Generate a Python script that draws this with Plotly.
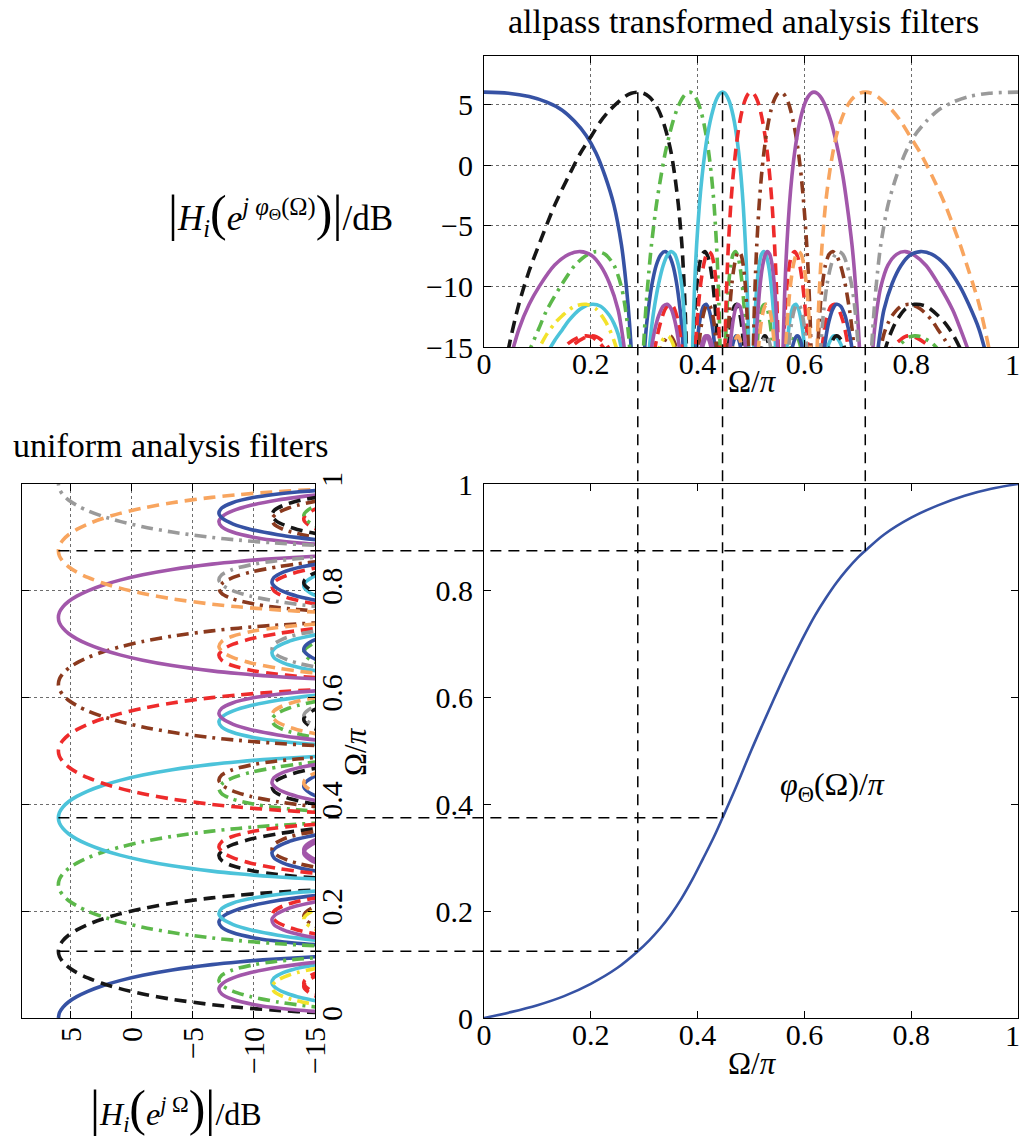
import numpy as np
import plotly.graph_objects as go

FONT = "Liberation Serif"

# ---------------------------------------------------------------------------
# 16-band uniform DFT filterbank: band centres (units of pi), colours, styles
# ---------------------------------------------------------------------------
channel_centre = [0.0, 0.125, 0.25, 0.375, 0.5, 0.625, 0.75, 0.875, 1.0,
                  1.125, 1.25, 1.375, 1.5, 1.625, 1.75, 1.875]
BLUE, BLACK, GREEN, CYAN = "#3652a4", "#161616", "#5cb84a", "#4cc3da"
RED, BROWN, MAGENTA, ORANGE = "#ee2b2b", "#8b3a1e", "#a257aa", "#f8a55f"
GRAY, YELLOW = "#9a9a9a", "#f3e22c"
channel_color = [BLUE, BLACK, GREEN, CYAN, RED, BROWN, MAGENTA, ORANGE, GRAY,
                 BLUE, BLACK, GREEN, CYAN, RED, YELLOW, MAGENTA]
SOLID, DASH, DASHDOT = "solid", "12px,7px", "12px,6px,3px,6px"
channel_dash = [SOLID, DASH, DASHDOT] * 5 + [SOLID]

# prototype magnitude response (dB) against distance from the band centre (Omega/pi)
main_lobe_offset = [0.0, 0.01, 0.02, 0.03, 0.04, 0.05, 0.06, 0.07, 0.08, 0.09,
                    0.10, 0.105, 0.11, 0.115, 0.12]
main_lobe_db = [6.02, 5.93, 5.65, 5.19, 4.51, 3.61, 2.45, 0.98, -0.89, -3.30,
                -6.56, -8.71, -11.45, -15.24, -21.55]
side1_offset = [0.135, 0.14, 0.145, 0.15, 0.16, 0.17, 0.18, 0.19, 0.20, 0.21,
                0.22, 0.225, 0.23, 0.235]
side1_db = [-16.61, -13.52, -11.48, -10.04, -8.24, -7.36, -7.13, -7.45, -8.30,
            -9.74, -11.95, -13.46, -15.37, -17.89]
side2_offset = [0.27, 0.275, 0.28, 0.285, 0.29, 0.30, 0.31, 0.32, 0.33, 0.335,
                0.34, 0.345, 0.35]
side2_db = [-16.69, -15.11, -13.94, -13.05, -12.40, -11.64, -11.48, -11.87,
            -12.83, -13.55, -14.46, -15.60, -17.04]
side3_offset = [0.41, 0.415, 0.42, 0.43, 0.435, 0.44, 0.45, 0.455, 0.46]
side3_db = [-15.90, -15.19, -14.68, -14.14, -14.08, -14.17, -14.75, -15.26, -15.94]

# frequency warping curve phi_Theta(Omega)/pi
warp_omega = [0.0, 0.05, 0.10, 0.15, 0.20, 0.25, 0.288, 0.31, 0.33, 0.35, 0.37,
              0.39, 0.41, 0.43, 0.4467, 0.47, 0.50, 0.52, 0.54, 0.56, 0.58,
              0.60, 0.62, 0.64, 0.66, 0.68, 0.70, 0.714, 0.75, 0.80, 0.85,
              0.90, 0.95, 1.0]
warp_phi = [0.0, 0.011, 0.024, 0.041, 0.064, 0.094, 0.125, 0.146, 0.168, 0.194,
            0.224, 0.259, 0.298, 0.338, 0.375, 0.428, 0.500, 0.546, 0.591,
            0.635, 0.677, 0.717, 0.754, 0.786, 0.815, 0.840, 0.862, 0.875,
            0.906, 0.937, 0.960, 0.978, 0.991, 1.0]

# bands whose centres are traced through the warping curve
mark_omega = [0.288, 0.4467, 0.714]
mark_phi = [0.125, 0.375, 0.875]

# tick positions and labels of the horizontal frequency axes
omega_ticks = [0.0, 0.2, 0.4, 0.6, 0.8, 1.0]
omega_ticktext = ["0", "0.2", "0.4", "0.6", "0.8", "1"]

# ---------------------------------------------------------------------------
# panel geometry (paper fractions) and axis ranges
# ---------------------------------------------------------------------------
W, H = 1023, 1138
TOP_X = [484 / W, 1018 / W]
TOP_Y = [1 - 347 / H, 1 - 56 / H]
BR_X = TOP_X
BR_Y = [1 - 1018 / H, 1 - 484 / H]
LEFT_X = [22 / W, 315 / W]
LEFT_Y = BR_Y
DB_RANGE = [-15, 9]
DB_RANGE_REV = [9, -15]


def to_paper(v, dom, rng):
    return dom[0] + (v - rng[0]) / (rng[1] - rng[0]) * (dom[1] - dom[0])


def lobe_segments():
    m_off = np.array(main_lobe_offset)
    m_db = np.array(main_lobe_db)
    segs = [(np.concatenate([-m_off[:0:-1], m_off]),
             np.concatenate([m_db[:0:-1], m_db]))]
    for off, db in [(side1_offset, side1_db), (side2_offset, side2_db),
                    (side3_offset, side3_db)]:
        off = np.array(off)
        db = np.array(db)
        segs.append((-off[::-1], db[::-1]))
        segs.append((off, db))
    return segs


SEGS = lobe_segments()


def channel_curve(centre):
    """Frequency positions (Omega/pi in [0,1]) and levels of one band's lobes."""
    pos_all, db_all = [], []
    for shift in (-2.0, 0.0, 2.0):
        for off, db in SEGS:
            pos = centre + shift + off
            keep = (pos >= -1e-9) & (pos <= 1 + 1e-9)
            if keep.sum() >= 2:
                pos_all.append(np.clip(pos[keep], 0, 1))
                db_all.append(db[keep])
    return pos_all, db_all


def joined(parts):
    out = []
    for p in parts:
        out.extend(p.tolist())
        out.append(None)
    return out


fig = go.Figure()

for k, c in enumerate(channel_centre):
    pos_parts, db_parts = channel_curve(c)
    if not pos_parts:
        continue
    line = dict(color=channel_color[k], width=3.6, dash=channel_dash[k],
                shape="spline", smoothing=0.8)
    # uniform filterbank (rotated panel: level horizontally, frequency vertically)
    fig.add_trace(go.Scatter(x=joined(db_parts), y=joined(pos_parts),
                             xaxis="x3", yaxis="y3", mode="lines", line=line,
                             hoverinfo="skip", showlegend=False))
    # allpass-transformed filterbank: frequencies mapped through the warping curve
    warped = [np.interp(p, warp_phi, warp_omega) for p in pos_parts]
    fig.add_trace(go.Scatter(x=joined(warped), y=joined(db_parts),
                             xaxis="x", yaxis="y", mode="lines", line=line,
                             hoverinfo="skip", showlegend=False))

fig.add_trace(go.Scatter(x=warp_omega, y=warp_phi, xaxis="x2", yaxis="y2",
                         mode="lines", line=dict(color=BLUE, width=2.6, shape="spline"),
                         hoverinfo="skip", showlegend=False))

# construction lines linking band centres across the three panels
peak_db = main_lobe_db[0]
shapes = []
for om, ph in zip(mark_omega, mark_phi):
    xv = to_paper(om, TOP_X, [0, 1])
    y_top = to_paper(peak_db, TOP_Y, DB_RANGE)
    y_curve = to_paper(ph, BR_Y, [0, 1])
    x_left = to_paper(peak_db, LEFT_X, DB_RANGE_REV)
    dline = dict(color="black", width=1.5, dash="11px,7px")
    shapes.append(dict(type="line", xref="paper", yref="paper", x0=xv, x1=xv,
                       y0=y_top, y1=y_curve, line=dline, layer="above"))
    shapes.append(dict(type="line", xref="paper", yref="paper", x0=x_left, x1=xv,
                       y0=y_curve, y1=y_curve, line=dline, layer="above"))

TICK_SIZE = 30
tickfont = dict(family=FONT, size=TICK_SIZE, color="black")
base = dict(showline=True, linecolor="black", linewidth=1.2, mirror="ticks",
            ticks="inside", ticklen=7, tickwidth=1, tickcolor="black",
            tickfont=tickfont, zeroline=False, fixedrange=True, automargin=False)
grid = dict(showgrid=True, gridcolor="rgba(60,60,60,0.75)", gridwidth=1, griddash="dot")
# the last label sits at the page edge, so it is placed separately, flush right
omega_axis = dict(range=[0, 1], tickmode="array", tickvals=omega_ticks,
                  ticktext=omega_ticktext[:-1] + [""], ticklabelstandoff=-10)

big = '<span style="font-size:50px">{}</span>'
top_ylabel = (big.format("|") + "<i>H<sub>i</sub></i>" + big.format("(")
              + "<i>e</i><sup><i>j φ</i><sub>Θ</sub>(Ω)</sup>" + big.format(")")
              + big.format("|") + "/dB")
left_xlabel = (big.format("|") + "<i>H<sub>i</sub></i>" + big.format("(")
               + "<i>e</i><sup><i>j</i> Ω</sup>" + big.format(")")
               + big.format("|") + "/dB")
omega_label = "Ω/<i>π</i>"


def ann(text, px, py, size=31, angle=0, xanchor="center"):
    return dict(text=text, x=px / W, y=1 - py / H, xref="paper", yref="paper",
                showarrow=False, xanchor=xanchor, yanchor="middle", textangle=angle,
                font=dict(family=FONT, size=size, color="black"))


annotations = [
    ann("allpass transformed analysis filters", 743, 22, 34),
    ann("uniform analysis filters", 170, 445, 34),
    ann(omega_label, 752, 381),
    ann(omega_label, 752, 1063),
    ann(omega_label, 355, 752, angle=-90),
    ann(top_ylabel, 280, 214, 35),
    ann(left_xlabel, 176, 1108, 32),
    ann("<i>φ</i><sub>Θ</sub>(Ω)/<i>π</i>", 778, 786, 32, xanchor="left"),
    ann(omega_ticktext[-1], 1022, 364, TICK_SIZE, xanchor="right"),
    ann(omega_ticktext[-1], 1022, 1035, TICK_SIZE, xanchor="right"),
]

fig.update_layout(
    template="none",
    width=W, height=H, margin=dict(l=0, r=0, t=0, b=0, autoexpand=False),
    paper_bgcolor="white", plot_bgcolor="white", showlegend=False,
    font=dict(family=FONT, color="black"),
    xaxis=dict(domain=TOP_X, anchor="y", **omega_axis, **base, **grid),
    yaxis=dict(domain=TOP_Y, anchor="x", range=DB_RANGE, tick0=0, dtick=5,
               ticklabelstandoff=4, **base, **grid),
    xaxis2=dict(domain=BR_X, anchor="y2", showgrid=False, **omega_axis, **base),
    yaxis2=dict(domain=BR_Y, anchor="x2", range=[0, 1], tick0=0, dtick=0.2,
                showgrid=False, ticklabelstandoff=4, **base),
    xaxis3=dict(domain=LEFT_X, anchor="y3", range=DB_RANGE_REV, tick0=0, dtick=5,
                tickangle=-90, ticklabelstandoff=-4, **base, **grid),
    yaxis3=dict(domain=LEFT_Y, anchor="x3", range=[0, 1], tick0=0, dtick=0.2,
                side="right", tickangle=-90, ticklabelstandoff=-10, **base, **grid),
    shapes=shapes,
    annotations=annotations,
)

fig.write_html("out.html")
